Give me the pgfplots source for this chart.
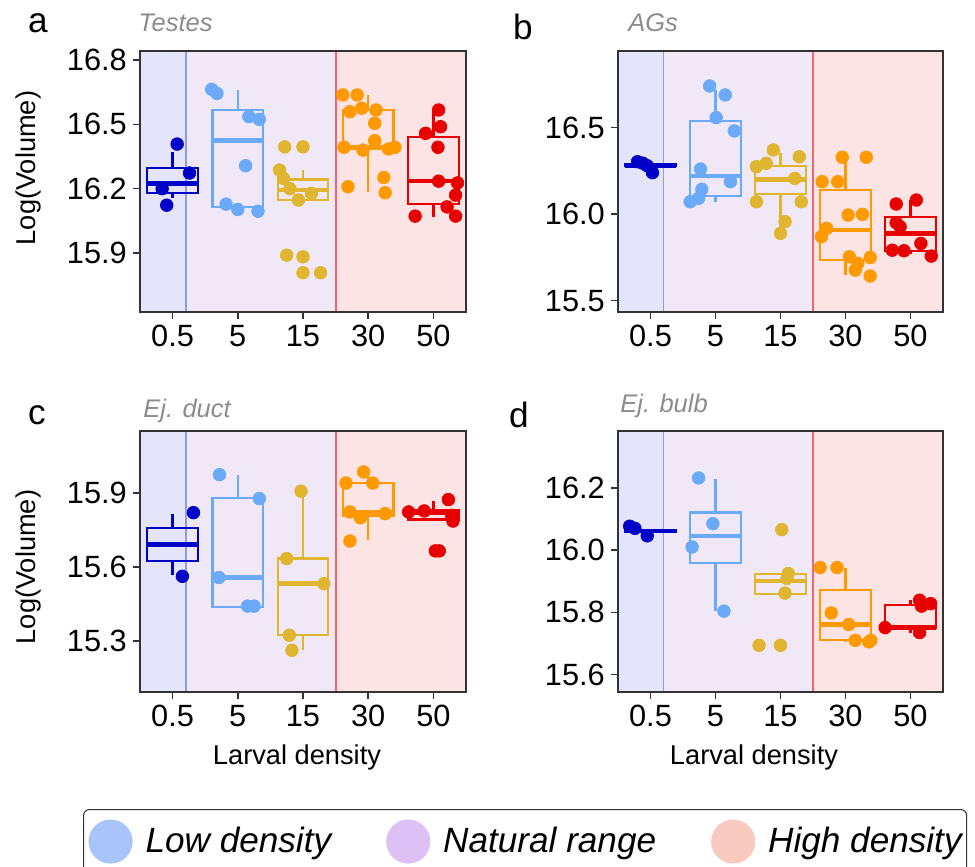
\documentclass[border=0pt]{standalone}
\usepackage{pgfplots}
\pgfplotsset{compat=1.18}
\usepackage{fontspec}
\setmainfont{Liberation Sans}

\definecolor{cA}{HTML}{0000C8}
\definecolor{cB}{HTML}{6AAAF8}
\definecolor{cC}{HTML}{E0B530}
\definecolor{cD}{HTML}{FF9900}
\definecolor{cE}{HTML}{E80000}
\definecolor{bgL}{HTML}{E4E4FA}
\definecolor{bgN}{HTML}{F0E8F7}
\definecolor{bgH}{HTML}{FDE4E4}
\definecolor{lnL}{HTML}{8C9CE8}
\definecolor{lnH}{HTML}{F06670}
\definecolor{lgL}{HTML}{A8C4FA}
\definecolor{lgN}{HTML}{DDC1F5}
\definecolor{lgH}{HTML}{F9CBC0}
\definecolor{ttl}{HTML}{8C8C8C}
\definecolor{frame}{HTML}{333333}

\pgfplotsset{
  panel/.style={
    anchor=south west,
    scale only axis,
    width=6.52cm, height=5.22cm,
    xmin=0.5, xmax=5.5,
    xtick={1,2,3,4,5},
    xticklabels={0.5,5,15,30,50},
    xtick pos=bottom, ytick pos=left,
    tick align=outside,
    major tick length=0.14cm,
    axis line style={frame, line width=0.85pt},
    tick style={frame, line width=0.85pt},
    tick label style={font=\fontsize{17.5}{20}\selectfont},
    /pgf/number format/assume math mode=true,
    yticklabel style={/pgf/number format/.cd, fixed, fixed zerofill, precision=1},
    axis on top,
  },
  pts/.style={only marks, mark=*, mark size=3.6pt, color=#1, forget plot},
}

% background regions of the three density classes
\newcommand{\regions}{%
  \addplot[draw=none, fill=bgL, forget plot] coordinates {(0.5,14) (1.2,14) (1.2,18) (0.5,18)};
  \addplot[draw=none, fill=bgN, forget plot] coordinates {(1.2,14) (3.5,14) (3.5,18) (1.2,18)};
  \addplot[draw=none, fill=bgH, forget plot] coordinates {(3.5,14) (5.5,14) (5.5,18) (3.5,18)};
  \addplot[lnL, line width=1.1pt, forget plot] coordinates {(1.2,14) (1.2,18)};
  \addplot[lnH, line width=1.1pt, forget plot] coordinates {(3.5,14) (3.5,18)};
}

% box: colour, position, lower whisker, Q1, median, Q3, upper whisker
\newcommand{\bp}[7]{%
  \pgfmathsetmacro\bl{#2-0.3875}%
  \pgfmathsetmacro\br{#2+0.3875}%
  \edef\temp{%
    \noexpand\addplot[#1, line width=1.3pt, forget plot] coordinates {(#2,#3) (#2,#4)};
    \noexpand\addplot[#1, line width=1.3pt, forget plot] coordinates {(#2,#6) (#2,#7)};
    \noexpand\addplot[#1, line width=1.3pt, line cap=rect, forget plot] coordinates {(\bl,#4) (\br,#4) (\br,#6) (\bl,#6) (\bl,#4)};
    \noexpand\addplot[#1, line width=2.6pt, forget plot] coordinates {(\bl,#5) (\br,#5)};
  }\temp
}

\begin{document}
\begin{tikzpicture}

% ---------------- a: Testes
\begin{axis}[panel, at={(2.8cm,11.1cm)}, ymin=15.625, ymax=16.842, ytick={15.9,16.2,16.5,16.8}]
\regions
\bp{cA}{1}{16.156}{16.181}{16.225}{16.295}{16.372}
\bp{cB}{2}{16.100}{16.113}{16.424}{16.567}{16.660}
\bp{cC}{3}{16.145}{16.147}{16.193}{16.243}{16.287}
\bp{cD}{4}{16.185}{16.385}{16.395}{16.567}{16.637}
\bp{cE}{5}{16.069}{16.128}{16.235}{16.442}{16.567}
\addplot[pts=cA] coordinates {(1.07,16.408) (1.26,16.273) (0.84,16.200) (0.91,16.123)};
\addplot[pts=cB] coordinates {(1.60,16.663) (1.68,16.644) (2.17,16.536) (2.33,16.523) (2.12,16.307) (1.82,16.128) (2.00,16.103) (2.31,16.095)};
\addplot[pts=cC] coordinates {(2.72,16.395) (3.00,16.395) (2.64,16.287) (2.70,16.248) (2.80,16.200) (2.93,16.147) (3.13,16.178) (2.75,15.890) (3.00,15.882) (3.00,15.808) (3.27,15.808)};
\addplot[pts=cD] coordinates {(3.61,16.637) (3.83,16.637) (3.72,16.559) (3.90,16.575) (4.12,16.567) (4.10,16.505) (4.10,16.424) (3.63,16.393) (3.92,16.380) (4.31,16.385) (4.41,16.393) (3.69,16.209) (4.24,16.252) (4.26,16.181)};
\addplot[pts=cE] coordinates {(5.08,16.567) (5.11,16.489) (4.88,16.458) (5.07,16.393) (5.08,16.235) (5.37,16.227) (5.34,16.170) (5.21,16.115) (5.34,16.072) (4.72,16.072)};
\end{axis}

% ---------------- b: AGs
\begin{axis}[panel, at={(12.36cm,11.1cm)}, width=6.5cm, ymin=15.435, ymax=16.943, ytick={15.5,16.0,16.5}]
\regions
\bp{cA}{1}{16.278}{16.278}{16.282}{16.288}{16.288}
\bp{cB}{2}{16.072}{16.105}{16.220}{16.540}{16.720}
\bp{cC}{3}{15.889}{16.117}{16.200}{16.280}{16.352}
\bp{cD}{4}{15.648}{15.735}{15.908}{16.140}{16.329}
\bp{cE}{5}{15.770}{15.789}{15.889}{15.982}{16.082}
\addplot[pts=cA] coordinates {(0.80,16.303) (0.88,16.295) (0.95,16.280) (1.03,16.240)};
\addplot[pts=cB] coordinates {(1.91,16.741) (2.15,16.689) (2.01,16.558) (2.29,16.481) (1.77,16.261) (1.79,16.144) (2.23,16.188) (1.61,16.072) (1.74,16.092)};
\addplot[pts=cC] coordinates {(2.89,16.371) (3.29,16.332) (2.63,16.275) (2.78,16.294) (3.22,16.207) (2.63,16.072) (3.32,16.072) (3.07,15.957) (3.00,15.889)};
\addplot[pts=cD] coordinates {(3.95,16.329) (4.32,16.329) (3.64,16.188) (3.88,16.188) (4.04,15.995) (4.26,15.999) (3.71,15.918) (3.63,15.870) (4.06,15.754) (4.19,15.716) (4.38,15.750) (4.38,15.643) (4.15,15.677)};
\addplot[pts=cE] coordinates {(4.78,16.059) (5.09,16.082) (4.78,15.951) (4.84,15.928) (4.72,15.792) (4.90,15.789) (5.16,15.831) (5.32,15.758)};
\end{axis}

% ---------------- c: Ej. duct
\begin{axis}[panel, at={(2.8cm,3.5cm)}, ymin=15.093, ymax=16.151, ytick={15.3,15.6,15.9},
  legend columns=3,
  legend style={at={(-0.1748,-0.4483)}, anchor=north west, draw=frame, line width=0.6pt,
    rounded corners=0.12cm, inner xsep=0.1cm, inner ysep=0.2cm,
    font=\fontsize{20}{23}\selectfont\itshape,
    nodes={inner sep=0pt},
    /tikz/every odd column/.append style={column sep=0.26cm},
    /tikz/every even column/.append style={column sep=1.1cm}},
  legend cell align=left]
\regions
\bp{cA}{1}{15.566}{15.624}{15.692}{15.758}{15.816}
\bp{cB}{2}{15.438}{15.438}{15.557}{15.880}{15.972}
\bp{cC}{3}{15.265}{15.323}{15.532}{15.634}{15.907}
\bp{cD}{4}{15.708}{15.809}{15.823}{15.940}{15.980}
\bp{cE}{5}{15.790}{15.792}{15.819}{15.832}{15.866}
\addplot[pts=cA] coordinates {(1.32,15.820) (1.15,15.562)};
\addplot[pts=cB] coordinates {(1.72,15.974) (2.33,15.877) (1.71,15.557) (2.15,15.441) (2.25,15.441)};
\addplot[pts=cC] coordinates {(2.97,15.907) (2.75,15.634) (3.32,15.532) (2.79,15.323) (2.83,15.262)};
\addplot[pts=cD] coordinates {(3.66,15.940) (3.93,15.985) (4.07,15.940) (3.72,15.823) (3.88,15.799) (4.26,15.816) (3.72,15.705)};
\addplot[pts=cE] coordinates {(5.23,15.873) (4.62,15.823) (4.86,15.827) (5.28,15.809) (5.30,15.786) (5.03,15.665) (5.09,15.665)};
\addlegendimage{legend image code/.code={\fill[lgL] (0.43cm,0cm) circle (0.43cm);}}
\addlegendentry{Low density}
\addlegendimage{legend image code/.code={\fill[lgN] (0.43cm,0cm) circle (0.43cm);}}
\addlegendentry{Natural range}
\addlegendimage{legend image code/.code={\fill[lgH] (0.43cm,0cm) circle (0.43cm);}}
\addlegendentry{High density}
\end{axis}

% ---------------- d: Ej. bulb
\begin{axis}[panel, at={(12.36cm,3.5cm)}, width=6.5cm, ymin=15.544, ymax=16.383, ytick={15.6,15.8,16.0,16.2}]
\regions
\bp{cA}{1}{16.058}{16.058}{16.061}{16.064}{16.064}
\bp{cB}{2}{15.805}{15.959}{16.046}{16.121}{16.230}
\bp{cC}{3}{15.860}{15.860}{15.901}{15.924}{15.924}
\bp{cD}{4}{15.705}{15.710}{15.761}{15.871}{15.941}
\bp{cE}{5}{15.735}{15.751}{15.751}{15.823}{15.839}
\addplot[pts=cA] coordinates {(0.68,16.077) (0.76,16.070) (0.95,16.046)};
\addplot[pts=cB] coordinates {(1.74,16.232) (1.96,16.085) (1.64,16.010) (2.13,15.804)};
\addplot[pts=cC] coordinates {(3.02,16.066) (3.12,15.925) (3.10,15.909) (3.07,15.862) (2.67,15.694) (3.00,15.694)};
\addplot[pts=cD] coordinates {(3.61,15.944) (3.87,15.944) (3.78,15.798) (4.05,15.761) (4.15,15.710) (4.36,15.705) (4.39,15.710)};
\addplot[pts=cE] coordinates {(4.61,15.751) (5.14,15.839) (5.17,15.820) (5.31,15.828) (5.14,15.735)};
\end{axis}

% ---------------- texts
\node[anchor=base west, font=\fontsize{20}{24}\selectfont] at (0.44cm,16.68cm) {a};
\node[anchor=base west, font=\fontsize{20}{24}\selectfont] at (10.14cm,16.54cm) {b};
\node[anchor=base west, font=\fontsize{20}{24}\selectfont] at (0.44cm,8.84cm) {c};
\node[anchor=base west, font=\fontsize{20}{24}\selectfont] at (10.06cm,8.78cm) {d};
\node[anchor=base west, inner sep=0pt, text=ttl, font=\fontsize{14.5}{17}\selectfont\itshape] at (2.76cm,16.7cm) {Testes};
\node[anchor=base west, inner sep=0pt, text=ttl, font=\fontsize{14.5}{17}\selectfont\itshape] at (12.56cm,16.7cm) {AGs};
\node[anchor=base west, inner sep=0pt, text=ttl, font=\fontsize{14.5}{17}\selectfont\itshape] at (2.86cm,8.98cm) {Ej. duct};
\node[anchor=base west, inner sep=0pt, text=ttl, font=\fontsize{14.5}{17}\selectfont\itshape] at (12.4cm,9.08cm) {Ej. bulb};
\node[rotate=90, font=\fontsize{15.5}{18}\selectfont] at (0.56cm,13.98cm) {Log(Volume)};
\node[rotate=90, font=\fontsize{15.5}{18}\selectfont] at (0.56cm,6.0cm) {Log(Volume)};
\node[font=\fontsize{15.5}{18}\selectfont] at (5.94cm,2.2cm) {Larval density};
\node[font=\fontsize{15.5}{18}\selectfont] at (15.08cm,2.2cm) {Larval density};

\pgfresetboundingbox
\path (0,0) rectangle (19.5cm,17.34cm);
\end{tikzpicture}
\end{document}
